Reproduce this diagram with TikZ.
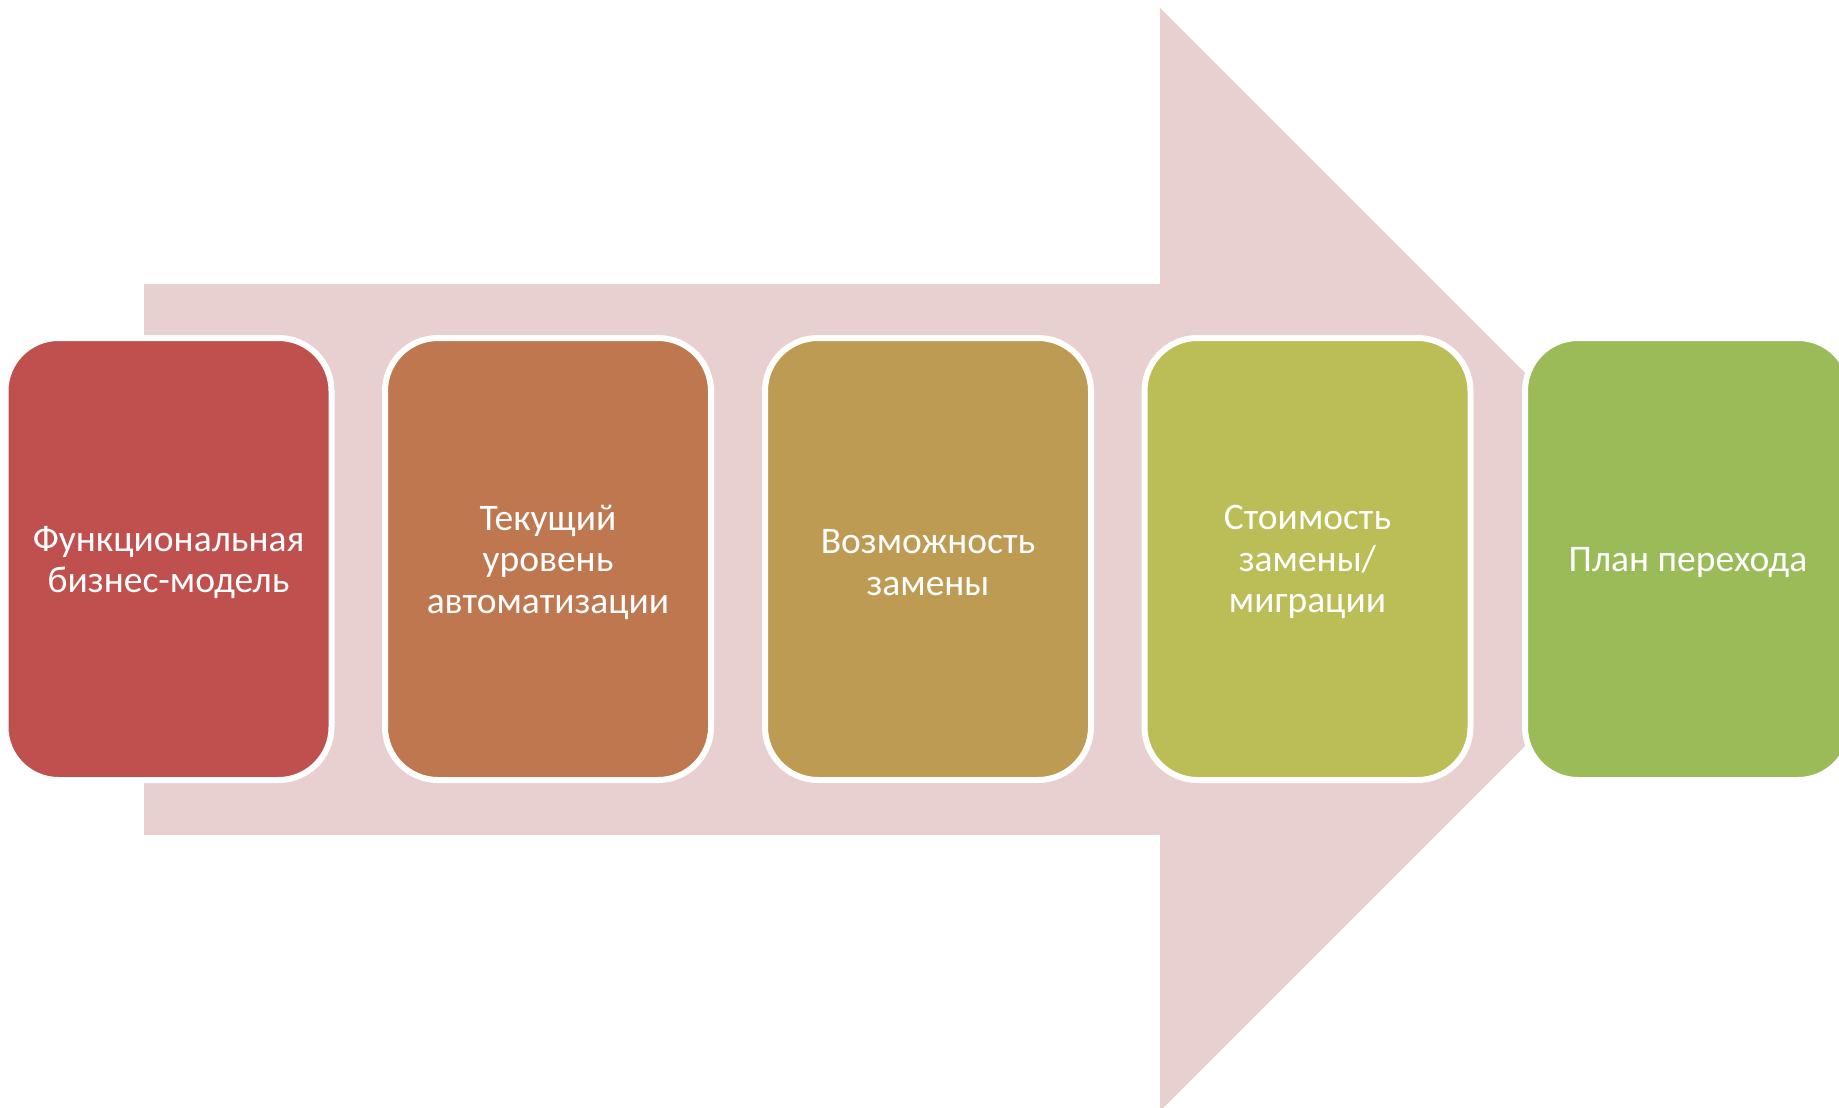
\documentclass[tikz,border=0pt]{standalone}
\usepackage{fontspec}
\setmainfont{Carlito}
\definecolor{arrowpink}{HTML}{E8D0D1}
\definecolor{cA}{HTML}{C0504D}
\definecolor{cB}{HTML}{BF774F}
\definecolor{cC}{HTML}{BE9B52}
\definecolor{cD}{HTML}{BBBD57}
\definecolor{cE}{HTML}{9BBB59}
\begin{document}
\begin{tikzpicture}[x=1pt,y=-1pt,
  stagebox/.style={rectangle, rounded corners=53pt, draw=white, line width=6pt,
    minimum width=326pt, minimum height=442pt, inner sep=0pt},
  stagetext/.style={inner sep=0pt, text=white, align=center,
    font=\fontsize{37.5}{41.5}\selectfont}]
\useasboundingbox (0,0) rectangle (1839,1108);
\clip (0,0) rectangle (1839,1108);
\fill[white] (0,0) rectangle (1839,1108);
% big background arrow
\coordinate (sTL) at (144,284);
\coordinate (hB) at (1160,284);
\coordinate (hT) at (1160,8);
\coordinate (tip) at (1711.5,559.5);
\coordinate (hBot) at (1160,1111);
\coordinate (hB2) at (1160,835);
\coordinate (sBL) at (144,835);
\fill[arrowpink] (sTL) -- (hB) -- (hT) -- (tip) -- (hBot) -- (hB2) -- (sBL) -- cycle;
% stages
\node[stagebox, fill=cA] (s1) at (168.5,559) {};
\node[stagebox, fill=cB] (s2) at (548,559) {};
\node[stagebox, fill=cC] (s3) at (928,559) {};
\node[stagebox, fill=cD] (s4) at (1307.5,559) {};
\node[stagebox, fill=cE] (s5) at (1688,559) {};
\node[stagetext] (t1) at ([yshift=-3.5pt]s1.center) {Функциональная\\бизнес-модель};
\node[stagetext] (t2) at ([yshift=-3pt]s2.center) {Текущий\\уровень\\автоматизации};
\node[stagetext] (t3) at ([yshift=-3.5pt]s3.center) {Возможность\\замены};
\node[stagetext] (t4) at ([yshift=-3pt]s4.center) {Стоимость\\замены/\\миграции};
\node[stagetext] (t5) at ([yshift=-3.5pt]s5.center) {План перехода};
\end{tikzpicture}
\end{document}
